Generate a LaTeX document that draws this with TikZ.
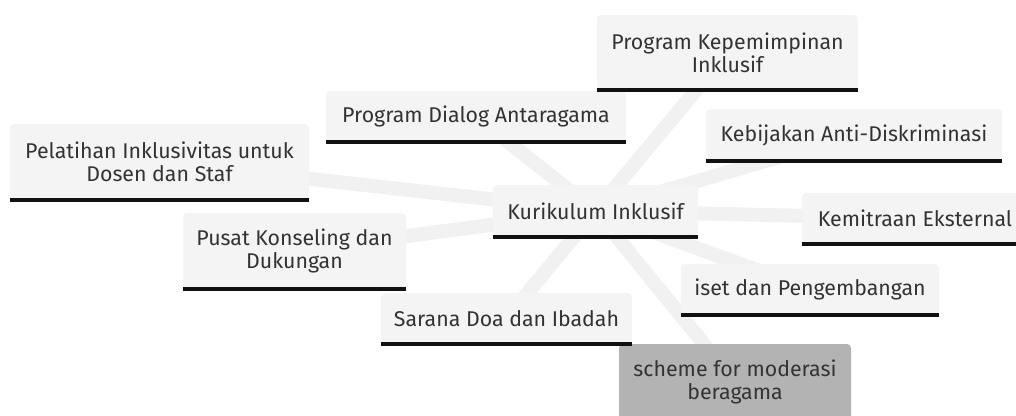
\documentclass[tikz,border=0pt]{standalone}
\usepackage{fontspec}
\setmainfont{Fira Sans}
\usetikzlibrary{backgrounds}
\definecolor{boxfill}{HTML}{F4F4F4}
\definecolor{edgecol}{HTML}{F1F1F1}
\definecolor{rootfill}{HTML}{B3B3B3}
\definecolor{txt}{HTML}{333333}
\definecolor{barcol}{HTML}{111111}
\begin{document}
\begin{tikzpicture}[x=0.75pt,y=-0.75pt,
  mbox/.style={fill=boxfill, rounded corners=3pt, inner sep=0pt, text=txt, align=center,
    font=\fontsize{16}{17.25}\selectfont},
  rootbox/.style={mbox, fill=rootfill},
  sz/.style 2 args={minimum width=#1*0.75pt, minimum height=#2*0.75pt},
  bar/.style={draw=barcol, line width=3pt},
  edge/.style={draw=edgecol, line width=10.5pt}]
\useasboundingbox (0,0) rectangle (1016,416);
\clip (0,0) rectangle (1016,416);

\node[mbox, sz={205}{52}] (kur) at (595.5,211) {Kurikulum Inklusif};
\node[mbox, sz={261}{75}] (kep) at (727.5,52.5) {Program Kepemimpinan\\Inklusif};
\node[mbox, sz={300}{51}] (dia) at (476,116.5) {Program Dialog Antaragama};
\node[mbox, sz={299}{76}] (pel) at (159.5,162) {Pelatihan Inklusivitas untuk\\Dosen dan Staf};
\node[mbox, sz={296}{52}] (keb) at (854,135) {Kebijakan Anti-Diskriminasi};
\node[mbox, sz={226}{51}] (kem) at (915,218.5) {Kemitraan Eksternal};
\node[mbox, sz={258}{51}] (ise) at (810,289.5) {iset dan Pengembangan};
\node[mbox, sz={223}{76}] (pus) at (294.5,251) {Pusat Konseling dan\\Dukungan};
\node[mbox, sz={251}{51}] (sar) at (506.5,318.5) {Sarana Doa dan Ibadah};
\node[rootbox, sz={232}{76}] (sch) at (735,382) {scheme for moderasi\\beragama};

\foreach \n in {kur,kep,dia,pel,keb,kem,ise,pus,sar}
  \draw[bar] (\n.south west) -- (\n.south east);

\begin{pgfonlayer}{background}
\foreach \n in {kep,dia,pel,keb,kem,ise,pus,sar,sch}
  \draw[edge] (kur.center) -- (\n.center);
\end{pgfonlayer}
\end{tikzpicture}
\end{document}
